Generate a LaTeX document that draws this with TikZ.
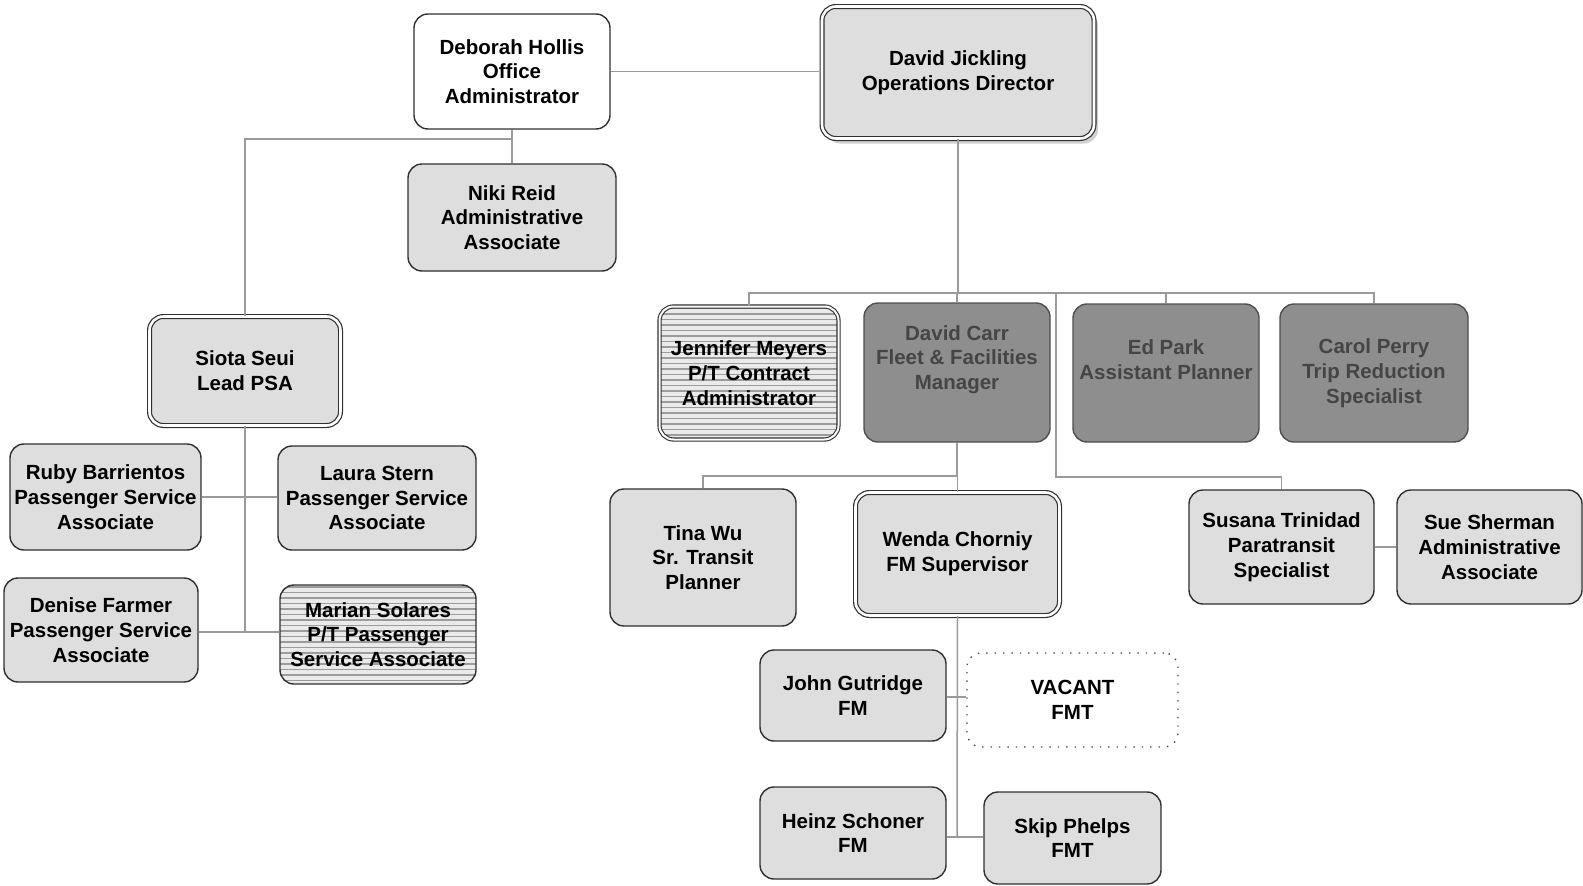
\documentclass[tikz,border=0pt]{standalone}
\usepackage{fontspec}
\setmainfont{Liberation Sans}
\usetikzlibrary{shadows}
\definecolor{boxline}{HTML}{303030}
\definecolor{lightfill}{HTML}{DEDEDE}
\definecolor{darkfill}{HTML}{8E8E8E}
\definecolor{darktext}{HTML}{454545}
\definecolor{wirecol}{HTML}{9A9A9A}
\definecolor{stripe}{HTML}{9C9C9C}
\definecolor{stripebg}{HTML}{EAEAEA}
\begin{document}
\begin{tikzpicture}[x=1pt,y=-1pt,
  sz/.style 2 args={minimum width=#1pt, minimum height=#2pt},
  card/.style={draw=boxline, line width=1.4pt, rounded corners=14pt, fill=lightfill,
    inner sep=0pt, align=center, font=\fontsize{20.5}{24.7}\selectfont\bfseries},
  plaincard/.style={card, fill=white},
  darkcard/.style={card, fill=darkfill, text=darktext, draw=boxline!85},
  leadcard/.style={card, line width=1.2pt, double=white, double distance=2.6pt},
  stripecard/.style={card, fill=stripebg,
    path picture={\foreach \k in {0,...,30}{\draw[stripe, line width=1.1pt]
      ([yshift=-\k*5.5pt-2pt]path picture bounding box.north west) -- ++(400pt,0pt);}}},
  vacantcard/.style={card, draw=black!70, fill=white, dash pattern=on 1.4pt off 7pt},
  wire/.style={draw=wirecol, line width=1.5pt},
  lbl/.style={align=center, inner sep=0pt, text=darktext,
    font=\fontsize{20.5}{24.7}\selectfont\bfseries}
]
\fill[white] (0,0) rectangle (1583,886);
\useasboundingbox (0,0) rectangle (1583,886);

% administration
\node[plaincard, sz={196}{115}] (deb) at (512,71.5) {Deborah Hollis\\Office\\Administrator};
\node[leadcard, sz={272}{132}, drop shadow={shadow xshift=4pt, shadow yshift=-5pt, opacity=0.18, fill=black}] (jick) at (958,72.5) {David Jickling\\Operations Director};
\node[card, sz={208}{107}] (niki) at (512,217.5) {Niki Reid\\Administrative\\Associate};

% passenger services
\node[leadcard, sz={191}{109}] (siota) at (245,371) {Siota Seui\\Lead PSA};
\node[card, sz={191}{106}] (ruby) at (105.5,497) {Ruby Barrientos\\Passenger Service\\Associate};
\node[card, sz={198}{104}] (laura) at (377,498) {Laura Stern\\Passenger Service\\Associate};
\node[card, sz={194}{104}] (denise) at (101,630) {Denise Farmer\\Passenger Service\\Associate};
\node[stripecard, sz={196}{99}] (marian) at (378,634.5) {Marian Solares\\P/T Passenger\\Service Associate};

% operations
\node[stripecard, line width=1.1pt, double=white, double distance=2pt, sz={179}{133}] (jen) at (749,373) {Jennifer Meyers\\P/T Contract\\Administrator};
\node[darkcard, sz={186}{139}] (carr) at (957,372.5) {};
\node[lbl] (carrtext) at ([yshift=13pt]carr.center) {David Carr\\Fleet \& Facilities\\Manager};
\node[darkcard, sz={186}{138}] (ed) at (1166,373) {};
\node[lbl] (edtext) at ([yshift=13pt]ed.center) {Ed Park\\Assistant Planner};
\node[darkcard, sz={188}{138}] (carol) at (1374,373) {Carol Perry\\Trip Reduction\\Specialist};

\node[card, sz={186}{137}] (tina) at (703,557.5) {Tina Wu\\Sr. Transit\\Planner};
\node[leadcard, sz={204}{123}] (wenda) at (957.5,554) {Wenda Chorniy\\FM Supervisor};
\node[card, sz={185}{114}] (susana) at (1281.5,547) {Susana Trinidad\\Paratransit\\Specialist};
\node[card, sz={185}{114}] (sue) at (1489.5,547) {Sue Sherman\\Administrative\\Associate};

\node[card, sz={186}{91}] (john) at (853,695.5) {John Gutridge\\FM};
\node[vacantcard, sz={211}{94}] (vacant) at (1072.5,700) {VACANT\\FMT};
\node[card, sz={186}{92}] (heinz) at (853,833) {Heinz Schoner\\FM};
\node[card, sz={177}{92}] (skip) at (1072.5,838) {Skip Phelps\\FMT};

% reporting lines
\draw[wire] (deb.east) -- (deb.east -| jick.west);
\coordinate (admjoin) at (512,139);
\draw[wire] (deb.south) -- (niki.north);
\draw[wire] (admjoin) -- (admjoin -| siota.north) -- (siota.north);

\coordinate (opsbus) at (957,293);
\draw[wire] (jick.south) -- (jick.south |- opsbus);
\draw[wire] (jen.north) -- (jen.north |- opsbus) -- (carol.north |- opsbus) -- (carol.north);
\draw[wire] (carr.north) -- (carr.north |- opsbus);
\draw[wire] (ed.north) -- (ed.north |- opsbus);

\coordinate (paratap) at (1056,293);
\coordinate (parabend) at (1056,477);
\draw[wire] (paratap) -- (parabend) -- (parabend -| susana.north) -- (susana.north);
\draw[wire] (susana.east) -- (sue.west);

\coordinate (fleetbus) at (957,476);
\draw[wire] (carr.south) -- (fleetbus);
\draw[wire] (tina.north) -- (tina.north |- fleetbus) -- (wenda.north |- fleetbus) -- (wenda.north);

\coordinate (fmtone) at (957,697);
\coordinate (fmttwo) at (957,837);
\draw[wire] (wenda.south) -- (fmttwo);
\draw[wire] (fmtone -| john.east) -- (fmtone -| vacant.west);
\draw[wire] (fmttwo -| heinz.east) -- (fmttwo -| skip.west);

\coordinate (psaone) at (245,497);
\coordinate (psatwo) at (245,632);
\draw[wire] (siota.south) -- (psatwo);
\draw[wire] (psaone -| ruby.east) -- (psaone -| laura.west);
\draw[wire] (psatwo -| denise.east) -- (psatwo -| marian.west);
\end{tikzpicture}
\end{document}
